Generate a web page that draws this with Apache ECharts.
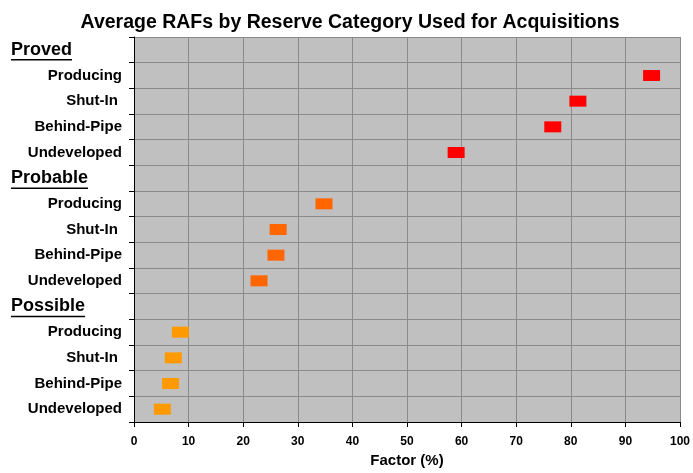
<!DOCTYPE html>
<html>
<head>
<meta charset="utf-8">
<script src="https://cdn.jsdelivr.net/npm/echarts@6/dist/echarts.min.js"></script>
<style>html,body{margin:0;padding:0;background:#fff}#c{width:693px;height:473px}</style>
</head>
<body>
<div id="c"></div>
<script>
const titleText = 'Average RAFs by Reserve Category Used for Acquisitions';
const groups = ['Proved', 'Probable', 'Possible'];
const subcats = ['Producing', 'Shut-In ', 'Behind-Pipe', 'Undeveloped'];
const provedValues = [94.8, 81.3, 76.7, 59.0];
const probableValues = [34.8, 26.4, 26.0, 22.9];
const possibleValues = [8.5, 7.2, 6.7, 5.2];
const groupColors = ['#FF0000', '#FF6600', '#FF9900'];
const xAxisName = 'Factor (%)';
const xMin = 0, xMax = 100, xStep = 10;

const groupValues = [provedValues, probableValues, possibleValues];
const categories = [];
const labelOf = {};
groups.forEach(g => {
  categories.push(g); labelOf[g] = {text: g, header: true};
  subcats.forEach(s => { const k = g + '|' + s; categories.push(k); labelOf[k] = {text: s, header: false}; });
});

const FONT = '"Liberation Sans", Arial, sans-serif';
const series = groups.map((g, gi) => ({
  type: 'scatter',
  name: g,
  symbol: 'rect',
  symbolSize: [17, 11],
  itemStyle: {color: groupColors[gi], opacity: 1},
  data: subcats.map((s, si) => [groupValues[gi][si], g + '|' + s]),
  z: 5
}));

const chart = echarts.init(document.getElementById('c'), null, {renderer: 'canvas'});
const option = {
  animation: false,
  title: {
    text: titleText, left: 345, top: 8, textAlign: 'center',
    textStyle: {fontFamily: FONT, fontSize: 19.5, fontWeight: 'bold', color: '#000'}
  },
  grid: {left: 134, right: 12, top: 37, bottom: 45, show: true, backgroundColor: '#C0C0C0', borderWidth: 0},
  xAxis: {
    type: 'value', min: xMin, max: xMax, interval: xStep,
    name: xAxisName, nameLocation: 'middle', nameGap: 31,
    nameTextStyle: {fontFamily: FONT, fontSize: 15, fontWeight: 'bold', color: '#000'},
    axisLine: {show: true, lineStyle: {color: '#000', width: 1}},
    axisTick: {show: true, length: 5, lineStyle: {color: '#000'}},
    axisLabel: {fontFamily: FONT, fontSize: 12, fontWeight: 'bold', color: '#000', margin: 14},
    splitLine: {show: true, lineStyle: {color: '#8A8A8A', width: 1}}
  },
  yAxis: {
    type: 'category', data: categories, inverse: true, boundaryGap: true,
    axisLine: {show: true, lineStyle: {color: '#000', width: 1}},
    axisTick: {show: true, length: 5, lineStyle: {color: '#000'}},
    splitLine: {show: true, lineStyle: {color: '#8A8A8A', width: 1}},
    axisLabel: {
      margin: 12, align: 'right',
      formatter: v => labelOf[v].header ? '{h|' + labelOf[v].text + '}' : '{i|' + labelOf[v].text + '}',
      rich: {
        h: {fontFamily: FONT, fontSize: 18, fontWeight: 'bold', color: '#000', width: 111, align: 'left'},
        i: {fontFamily: FONT, fontSize: 15, fontWeight: 'bold', color: '#000', width: 111, align: 'right'}
      }
    }
  },
  series: series
};
chart.setOption(option);

// underline the group headers
const ctx = document.createElement('canvas').getContext('2d');
ctx.font = 'bold 18px ' + FONT;
const lines = groups.map(g => {
  const y = chart.convertToPixel({yAxisIndex: 0}, g) + 10;
  const w = ctx.measureText(g).width;
  return {type: 'line', shape: {x1: 11, y1: y, x2: 11 + w, y2: y}, style: {stroke: '#000', lineWidth: 1.5}, z: 10};
});
chart.setOption({graphic: lines});
</script>
</body>
</html>
